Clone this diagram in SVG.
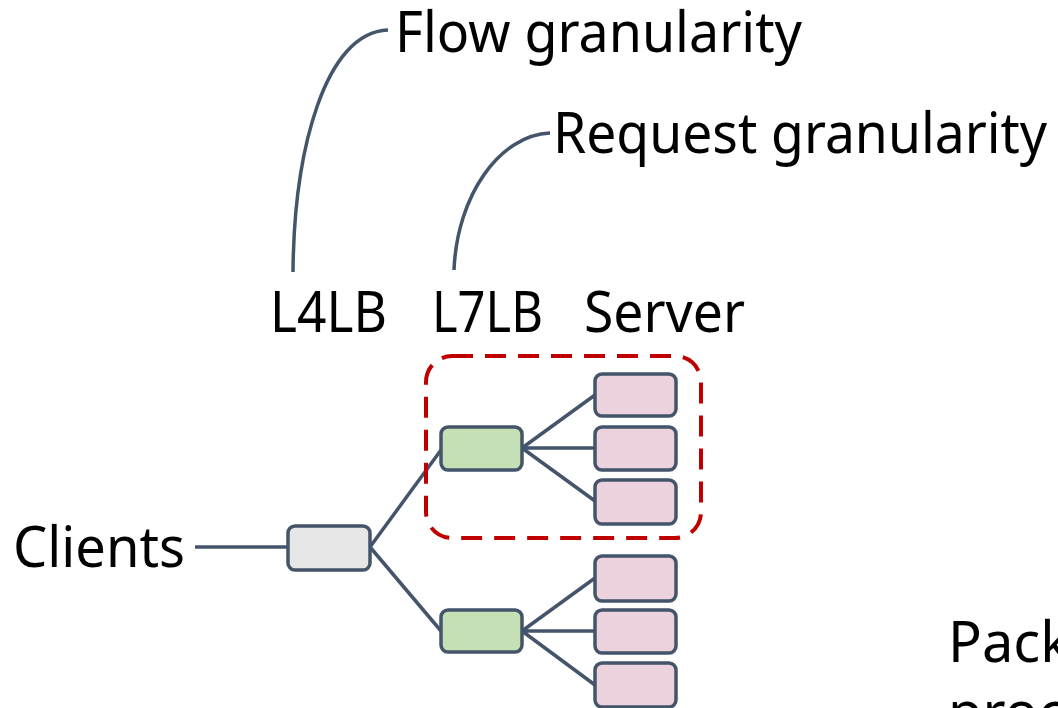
<svg xmlns="http://www.w3.org/2000/svg" width="1058" height="708" viewBox="0 0 1058 708">
<style>
text{font-family:"Noto Sans","Open Sans",sans-serif;font-size:56px;fill:#000}
.box{stroke:#44546A;stroke-width:3.5}
.lb{fill:#E7E6E6}
.l7{fill:#C5E0B4}
.srv{fill:#EBD2DC}
.c{fill:none;stroke:#44546A;stroke-width:3.5}
</style>
<rect width="1058" height="708" fill="#fff"/>
<g id="connectors">
<path class="c" d="M195,547 H288"/>
<path class="c" d="M370,547 L441,450"/>
<path class="c" d="M370,547 L441,631"/>
<path class="c" d="M522,448 L595,395 M522,448 H595 M522,448 L595,501"/>
<path class="c" d="M522,631 L595,578 M522,631 H595 M522,631 L595,685"/>
<path class="c" d="M293,272 C294,150 325,32 388,30"/>
<path class="c" d="M454,270 C457,195 500,135 550,133"/>
</g>
<g id="group-box"><rect x="426" y="356" width="275" height="182" rx="26" fill="none" stroke="#C00000" stroke-width="4" stroke-dasharray="21 12"/></g>
<g id="l4lb"><rect class="box lb" x="288" y="526" width="82" height="44" rx="7"/></g>
<g id="l7lb-1"><rect class="box l7" x="441" y="427" width="81" height="43" rx="7"/></g>
<g id="l7lb-2"><rect class="box l7" x="441" y="610" width="81" height="42" rx="7"/></g>
<g id="server-1"><rect class="box srv" x="595" y="374" width="81" height="42" rx="7"/></g>
<g id="server-2"><rect class="box srv" x="595" y="427" width="81" height="43" rx="7"/></g>
<g id="server-3"><rect class="box srv" x="595" y="480" width="81" height="44" rx="7"/></g>
<g id="server-4"><rect class="box srv" x="595" y="556" width="81" height="45" rx="7"/></g>
<g id="server-5"><rect class="box srv" x="595" y="610" width="81" height="43" rx="7"/></g>
<g id="server-6"><rect class="box srv" x="595" y="663" width="81" height="44" rx="7"/></g>
<g id="labels">
<text x="395" y="52" textLength="407" lengthAdjust="spacingAndGlyphs">Flow granularity</text>
<text x="553" y="153" textLength="494" lengthAdjust="spacingAndGlyphs">Request granularity</text>
<text x="270" y="332" textLength="117" lengthAdjust="spacingAndGlyphs">L4LB</text>
<text x="432" y="332" textLength="111" lengthAdjust="spacingAndGlyphs">L7LB</text>
<text x="584" y="332" textLength="161" lengthAdjust="spacingAndGlyphs">Server</text>
<text x="13" y="567" textLength="172" lengthAdjust="spacingAndGlyphs">Clients</text>
<text x="948" y="662">Packet</text>
<text x="948" y="732">processing</text>
</g>
</svg>
